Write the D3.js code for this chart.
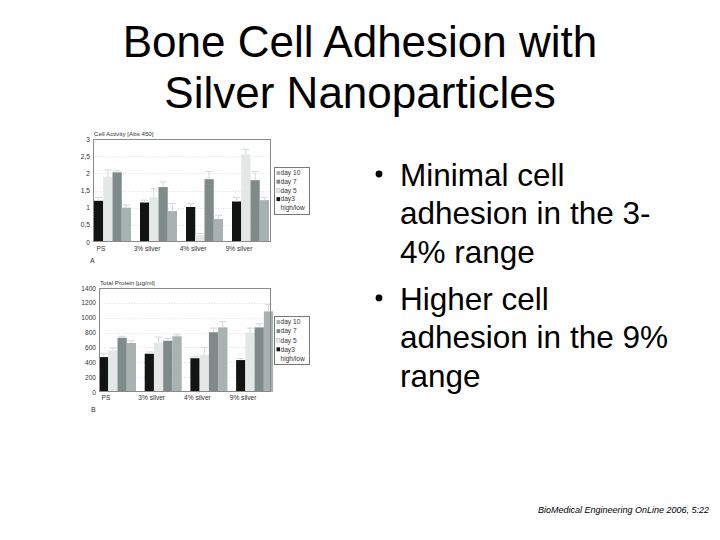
<!DOCTYPE html>
<html>
<head>
<meta charset="utf-8">
<script src="https://cdn.jsdelivr.net/npm/d3@7"></script>
<style>
  html, body { margin: 0; padding: 0; background: #fff; }
  svg { display: block; }
  text { font-family: "Liberation Sans", Arial, sans-serif; }
</style>
</head>
<body>
<script>
// ---------- data ----------
const groups = ["PS", "3% silver", "4% silver", "9% silver"];
const series = ["day3", "day 5", "day 7", "day 10"];
const legendLabels = ["day 10", "day 7", "day 5", "day3", "high/low"];

// Chart A: Cell Activity [Abs 450]  (rows = groups, cols = series)
const activity = [
  [1.20, 1.90, 2.03, 1.00],
  [1.15, 1.30, 1.60, 0.90],
  [1.02, 0.20, 1.83, 0.67],
  [1.18, 2.55, 1.80, 1.22]
];
const activityHigh = [
  [1.30, 2.10, 2.08, 1.08],
  [1.22, 1.55, 1.75, 1.12],
  [1.12, 0.25, 2.05, 0.78],
  [1.30, 2.70, 2.05, 1.30]
];
const activityTicks = [0, 0.5, 1, 1.5, 2, 2.5, 3];

// Chart B: Total Protein [µg/ml]
const protein = [
  [470, 560, 730, 660],
  [515, 665, 690, 750],
  [455, 500, 805, 870],
  [430, 800, 870, 1085]
];
const proteinHigh = [
  [520, 590, 750, 690],
  [540, 740, 720, 770],
  [480, 600, 860, 950],
  [450, 860, 920, 1180]
];
const proteinTicks = [0, 200, 400, 600, 800, 1000, 1200, 1400];

const bulletLines = [
  ["Minimal cell", "adhesion in the 3-", "4% range"],
  ["Higher cell", "adhesion in the 9%", "range"]
];

// ---------- styles ----------
const seriesColor = {"day3": "#121414", "day 5": "#e3e8e6", "day 7": "#7e8b89", "day 10": "#a8b2b0"};
const legendColor = {"day 10": "#a8b2b0", "day 7": "#7e8b89", "day 5": "#e3e8e6", "day3": "#121414", "high/low": "none"};

const W = 720, H = 540;
const svg = d3.select("body").append("svg").attr("width", W).attr("height", H);
svg.append("rect").attr("width", W).attr("height", H).attr("fill", "#fff");

// Title
const title = svg.append("text").attr("text-anchor", "middle").attr("font-size", 44).attr("fill", "#000");
title.append("tspan").attr("x", 360).attr("y", 57).text("Bone Cell Adhesion with");
title.append("tspan").attr("x", 360).attr("y", 108).text("Silver Nanoparticles");

// Bullets
let by = 186;
bulletLines.forEach((lines, bi) => {
  svg.append("circle").attr("cx", 379).attr("cy", by - 12).attr("r", 3.4).attr("fill", "#000");
  lines.forEach((ln, li) => {
    svg.append("text").attr("x", 400).attr("y", by).attr("font-size", 31.5).attr("fill", "#000").text(ln);
    by += 38.3;
  });
  by += 9;
});

// Citation
svg.append("text").attr("x", 709).attr("y", 513).attr("text-anchor", "end")
  .attr("font-size", 9).attr("font-style", "italic").attr("fill", "#000")
  .text("BioMedical Engineering OnLine 2006, 5:22");

function drawChart(cfg) {
  const g = svg.append("g");
  const y = d3.scaleLinear().domain([0, cfg.max]).range([cfg.bottom, cfg.top]);
  const x0 = d3.scaleBand().domain(groups).range([cfg.barStart, cfg.barStart + 4 * cfg.step]).paddingInner(0).paddingOuter(0);
  const x1 = d3.scaleBand().domain(series).range([0, 37]).padding(0);

  // plot background
  g.append("rect").attr("x", cfg.left).attr("y", cfg.top).attr("width", cfg.right - cfg.left)
    .attr("height", cfg.bottom - cfg.top).attr("fill", "#fff");

  // grid
  g.selectAll(".grid").data(cfg.ticks.slice(1, -1)).join("line")
    .attr("x1", cfg.left).attr("x2", cfg.right)
    .attr("y1", d => Math.round(y(d)) + 0.5).attr("y2", d => Math.round(y(d)) + 0.5)
    .attr("stroke", "#d8d8d8").attr("stroke-width", 0.8).attr("stroke-dasharray", "1,1.5");

  // bars
  cfg.values.forEach((row, gi) => {
    row.forEach((v, si) => {
      const s = series[si];
      const bx = x0(groups[gi]) + x1(s);
      g.append("rect").attr("x", bx).attr("y", y(v)).attr("width", x1.bandwidth())
        .attr("height", y(0) - y(v)).attr("fill", seriesColor[s]);
      const hi = cfg.high[gi][si];
      const cx = bx + x1.bandwidth() / 2;
      g.append("line").attr("x1", cx).attr("x2", cx).attr("y1", y(v)).attr("y2", y(hi))
        .attr("stroke", "#d4d8d7").attr("stroke-width", 1);
      g.append("line").attr("x1", bx + 1).attr("x2", bx + x1.bandwidth() - 1).attr("y1", y(hi)).attr("y2", y(hi))
        .attr("stroke", "#d4d8d7").attr("stroke-width", 1);
    });
  });

  // frame
  g.append("rect").attr("x", cfg.left + 0.5).attr("y", cfg.top + 0.5).attr("width", cfg.right - cfg.left - 1)
    .attr("height", cfg.bottom - cfg.top - 1).attr("fill", "none").attr("stroke", "#8a8a8a").attr("stroke-width", 1);

  // y axis labels
  const yAxis = d3.axisLeft(y).tickValues(cfg.ticks).tickSize(0).tickPadding(3)
    .tickFormat(d => cfg.fmt(d));
  const ya = g.append("g").attr("transform", `translate(${cfg.left},0)`).call(yAxis);
  ya.select(".domain").remove();
  ya.selectAll("text").attr("font-size", 6.6).attr("fill", "#333")
    .attr("font-family", "'Liberation Sans', Arial, sans-serif");

  // x labels
  g.selectAll(".xl").data(groups).join("text")
    .attr("x", d => x0(d) + 7).attr("y", cfg.labelY).attr("text-anchor", "middle")
    .attr("font-size", 6.6).attr("fill", "#333").text(d => d);

  // axis title
  g.append("text").attr("x", cfg.left + 1).attr("y", cfg.top - 3).attr("font-size", 6.2).attr("fill", "#333").text(cfg.title);

  // panel letter
  g.append("text").attr("x", cfg.panelX).attr("y", cfg.panelY).attr("font-size", 7).attr("fill", "#333").text(cfg.panel);

  // legend
  const lg = g.append("g");
  lg.append("rect").attr("x", 274.5).attr("y", cfg.legTop + 0.5).attr("width", 35).attr("height", cfg.legH)
    .attr("fill", "#fff").attr("stroke", "#777").attr("stroke-width", 1);
  legendLabels.forEach((lab, i) => {
    const ly = cfg.legTop + 6 + i * cfg.legStep;
    if (legendColor[lab] !== "none") {
      lg.append("rect").attr("x", 276.5).attr("y", ly - 2).attr("width", 3.5).attr("height", 4)
        .attr("fill", legendColor[lab]).attr("stroke", lab === "day 5" ? "#bbb" : "none").attr("stroke-width", 0.5);
    }
    lg.append("text").attr("x", 280.5).attr("y", ly + 2.3).attr("font-size", 6.6).attr("fill", "#333").text(lab);
  });
}

drawChart({
  values: activity, high: activityHigh, ticks: activityTicks, max: 3,
  left: 93, right: 271, top: 139, bottom: 242, barStart: 94, step: 46,
  fmt: d => String(d).replace(".", ","),
  labelY: 251, title: "Cell Activity [Abs 450]", panel: "A", panelX: 90, panelY: 263,
  legTop: 167, legH: 47, legStep: 8.7
});

drawChart({
  values: protein, high: proteinHigh, ticks: proteinTicks, max: 1400,
  left: 99, right: 271, top: 288, bottom: 392, barStart: 99, step: 45.7,
  fmt: d => String(d),
  labelY: 400, title: "Total Protein [µg/ml]", panel: "B", panelX: 91, panelY: 412,
  legTop: 316, legH: 48, legStep: 9.1
});
</script>
</body>
</html>
